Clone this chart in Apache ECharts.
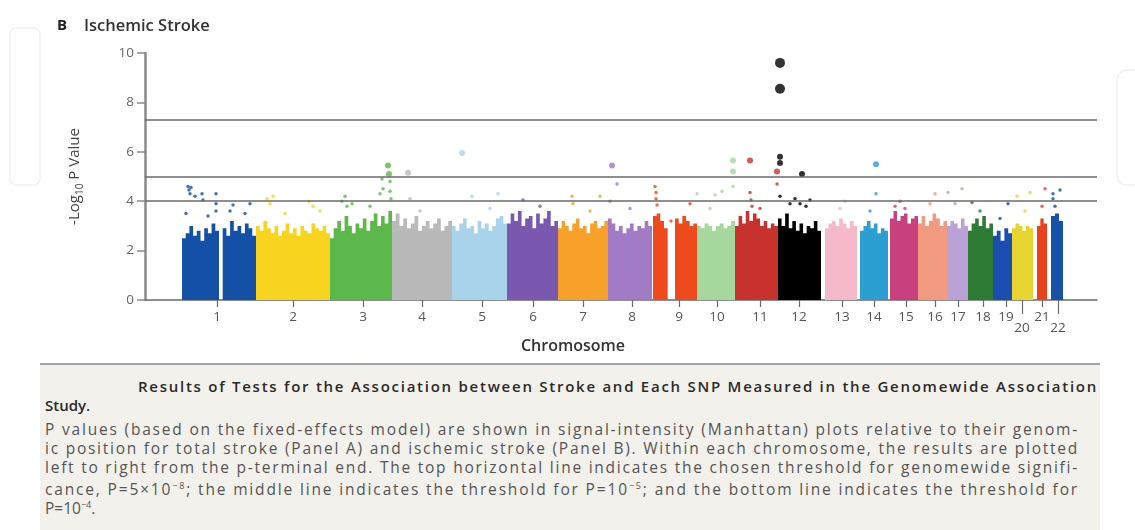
<!DOCTYPE html>
<html>
<head>
<meta charset="utf-8">
<script src="https://cdn.jsdelivr.net/npm/echarts@6/dist/echarts.min.js"></script>
<style>
html, body { margin: 0; padding: 0; background: #fff; }
#wrap { position: relative; width: 1135px; height: 530px; overflow: hidden; }
#chart { position: absolute; left: 0; top: 0; width: 1135px; height: 530px; }
#caption { position: absolute; left: 40px; top: 363px; width: 1060px; height: 167px;
  background: #f3f1ec; border-top: 2px solid #a3a3a3; font-family: "Open Sans", sans-serif; }
.ln { position: absolute; white-space: nowrap; font-size: 15.5px; line-height: 18px; color: #555; }
.bold { font-weight: 600; color: #2a2a2a; font-size: 15px; }
sup { font-size: 9px; }
</style>
</head>
<body>
<div id="wrap">
  <div id="chart"></div>
  <div id="caption">
    <span class="ln bold" data-w="960" style="left:98px;top:12px">Results of Tests for the Association between Stroke and Each SNP Measured in the Genomewide Association</span>
    <span class="ln bold" style="left:5px;top:31px">Study.</span>
    <span class="ln" data-w="1034" style="left:5px;top:55px">P values (based on the fixed-effects model) are shown in signal-intensity (Manhattan) plots relative to their genom-</span>
    <span class="ln" data-w="1034" style="left:5px;top:74px">ic position for total stroke (Panel A) and ischemic stroke (Panel B). Within each chromosome, the results are plotted</span>
    <span class="ln" data-w="1034" style="left:5px;top:93px">left to right from the p-terminal end. The top horizontal line indicates the chosen threshold for genomewide signifi-</span>
    <span class="ln" data-w="1034" style="left:5px;top:112px">cance, P=5×10<sup>−8</sup>; the middle line indicates the threshold for P=10<sup>−5</sup>; and the bottom line indicates the threshold for</span>
    <span class="ln" style="left:5px;top:131px">P=10<sup>−4</sup>.</span>
  </div>
</div>
<script>
// chromosomes, cumulative position along the genome axis
var chrNames = ['1','2','3','4','5','6','7','8','9','10','11','12','13','14','15','16','17','18','19','20','21','22'];
var chrStart = [37,111,185,247,307,362,413,463,508,552,590,633,680,715,745,773,802,823,848,867,892,906];
var chrEnd   = [111,185,247,307,362,413,463,507,552,590,633,676,712,743,773,802,823,848,867,888,902,918];
var tickPos  = [72,148,218,277,337,388,438,487,534,572,615,654,697,729,761,790,813,838,861,877,897,913];
var chrColors = ['#1450a6','#f8d41f','#5cb84a','#b9b9b9','#a8d3ea','#7b58b0','#f7a12b','#a27bc6',
  '#ee4a1e','#a6d79c','#c8322c','#000000','#f5b9c9','#2c9fd2','#c8417e','#f29a7f','#bba2d6',
  '#2e7b35','#1c4db0','#e8d431','#e8431d','#1652a6'];

// dense SNP mass, -log10 P heights across each chromosome
var chrProfile = [
  [2.5,2.7,3.0,2.6,2.8,2.4,2.9,2.7,3.1,2.8,0,2.9,2.6,3.2,2.8,3.0,2.7,3.1,2.9,2.6],
  [3.0,2.8,3.2,2.9,2.7,3.0,2.6,2.8,3.1,2.7,2.9,2.6,3.0,2.8,2.7,3.1,2.9,2.8,3.0,2.7],
  [2.5,2.9,3.2,2.8,3.4,3.0,2.7,3.1,2.9,3.3,2.8,3.2,3.5,3.0,3.4,3.1,3.6],
  [3.2,3.5,3.0,3.3,2.9,3.1,3.4,2.8,3.0,3.2,2.9,3.1,3.3,2.8,3.0,3.2],
  [3.0,2.8,3.1,3.3,2.9,3.0,2.7,3.2,2.9,3.1,2.8,3.0,3.3,3.4,3.1],
  [3.1,3.5,3.2,3.6,3.0,3.3,3.4,2.9,3.5,3.1,3.3,3.6,3.0,3.2],
  [2.9,3.2,3.0,2.8,3.1,3.3,2.9,3.0,2.7,3.1,3.2,2.9,3.0,3.2],
  [3.3,3.1,2.8,3.0,2.7,2.9,3.1,2.8,3.0,2.9,3.2,3.0],
  [3.4,3.5,3.2,2.9,0,0,3.3,3.1,3.4,3.2,3.0,3.1],
  [3.0,2.9,3.1,3.0,2.8,3.0,3.1,2.9,3.0,3.2],
  [3.0,3.4,3.1,3.6,3.2,3.5,3.3,3.0,3.2,2.9,3.1,3.0],
  [3.3,3.0,3.5,2.9,3.2,2.8,3.1,2.7,3.0,2.9,3.2,2.8],
  [2.9,3.1,3.2,3.0,3.3,3.1,2.9,3.2,3.0],
  [2.8,3.0,3.2,2.9,3.1,2.7,2.9,2.8],
  [3.3,3.6,3.2,3.4,3.5,3.1,3.3,3.4],
  [3.1,3.4,3.0,3.2,3.5,3.3,3.0,3.2],
  [3.0,3.2,3.1,2.9,3.3,3.0],
  [2.8,3.1,3.3,3.0,3.4,2.9,3.1],
  [2.6,2.8,2.4,2.9,2.7],
  [2.9,3.1,3.0,2.8,3.0,2.9],
  [3.0,3.3,3.1],
  [3.4,3.5,3.2]
];

// individual SNPs standing above the mass: [position, -log10 P]
var chrHits = [
  [[43,4.6],[44,4.45],[45,4.3],[46,4.55],[50,4.2],[57,4.3],[58,4.05],[71,4.3],[71,3.9],[71,3.6],[41,3.5],[63,3.4],[85,3.6],[88,3.85],[105,3.9],[100,3.5]],
  [[122,4.1],[125,3.9],[128,4.2],[164,4.0],[168,3.8],[140,3.5],[175,3.6]],
  [[197,4.0],[200,4.2],[202,3.8],[207,3.9],[235,4.3],[237,4.9],[238,4.5],[243,5.45],[244,5.1],[245,4.8],[245,4.4],[246,4.1],[225,3.8]],
  [[263,5.15],[265,4.1],[275,3.6]],
  [[317,5.95],[327,4.2],[353,4.3],[345,3.7]],
  [[378,4.05],[395,3.8]],
  [[427,4.2],[428,3.9],[455,4.2],[445,3.6]],
  [[467,5.45],[472,4.7],[465,4.0],[485,3.7]],
  [[510,4.6],[511,4.35],[511,4.1],[512,3.85],[545,3.9],[526,3.2]],
  [[552,4.3],[570,4.25],[577,4.4],[588,5.65],[588,5.2],[588,4.6],[565,3.7]],
  [[605,5.65],[605,4.35],[606,4.05],[607,3.8],[615,3.7],[632,5.2],[632,4.7]],
  [[635,9.6],[635,8.55],[635,5.8],[635,5.55],[635,4.2],[657,5.1],[650,4.1],[655,3.9],[665,4.05],[661,3.8],[645,3.9]],
  [[700,4.0],[695,3.7]],
  [[731,5.5],[731,4.3],[725,3.6]],
  [[755,4.0],[750,3.8],[760,3.7]],
  [[790,4.3],[785,3.9]],
  [[803,4.35],[817,4.5],[810,3.9]],
  [[827,3.95],[835,3.6]],
  [[863,3.9],[855,3.3]],
  [[872,4.2],[885,4.35],[880,3.6]],
  [[900,4.5],[897,3.8]],
  [[915,4.45],[908,4.3],[908,4.1],[910,3.8]]
];

// significance thresholds: 5e-8, 1e-5, 1e-4
var thresholds = [7.3, 5, 4];
var lowLabels = ['20', '22'];

var font = '"Open Sans", sans-serif';
var myChart = echarts.init(document.getElementById('chart'));

var series = [];
chrNames.forEach(function (name, i) {
  var prof = chrProfile[i];
  var w = (chrEnd[i] - chrStart[i]) / prof.length;
  var pts = prof.map(function (h, k) { return [chrStart[i] + k * w, h]; });
  pts.push([chrEnd[i], prof[prof.length - 1]]);
  var s = {
    type: 'line', name: 'chr' + name, data: pts, step: 'end',
    symbol: 'none', silent: true, z: 2,
    lineStyle: { width: 0 },
    areaStyle: { color: chrColors[i], opacity: 1 }
  };
  if (i === 0) {
    s.markLine = {
      silent: true, symbol: 'none', label: { show: false }, animation: false,
      lineStyle: { color: '#6a6a6a', width: 1.5, type: 'solid' },
      data: thresholds.map(function (t) { return { yAxis: t }; })
    };
  }
  series.push(s);
});
chrNames.forEach(function (name, i) {
  series.push({
    type: 'scatter', name: 'hits' + name, data: chrHits[i], z: 3,
    symbolSize: function (v) { return v[1] >= 8 ? 10 : (v[1] >= 5 ? 6 : 3.5); },
    itemStyle: { color: chrColors[i] }
  });
});

var mainTicks = tickPos.filter(function (p, i) { return lowLabels.indexOf(chrNames[i]) < 0; });
var lowTicks = tickPos.filter(function (p, i) { return lowLabels.indexOf(chrNames[i]) >= 0; });
function chrLabel(v) { return chrNames[tickPos.indexOf(v)] || ''; }

var option = {
  animation: false,
  backgroundColor: '#fff',
  grid: { left: 145, right: 38, top: 53, bottom: 230, containLabel: false, outerBoundsMode: 'none' },
  graphic: [
    { type: 'rect', shape: { x: 10, y: 28, width: 30, height: 157, r: 6 }, style: { fill: 'none', stroke: '#f1f1f1', lineWidth: 1.5 } },
    { type: 'rect', shape: { x: 1117, y: 70, width: 40, height: 115, r: 10 }, style: { fill: 'none', stroke: '#f1f1f1', lineWidth: 1.5 } },
    { type: 'text', x: 57, y: 26, style: { text: 'B', font: 'bold 15px ' + font, fill: '#222', textVerticalAlign: 'middle' } },
    { type: 'text', x: 84, y: 26, style: { text: 'Ischemic Stroke', font: '600 16.5px ' + font, fill: '#333', textVerticalAlign: 'middle' } },
    { type: 'text', x: 573, y: 346, style: { text: 'Chromosome', font: '600 16px ' + font, fill: '#333', textAlign: 'center', textVerticalAlign: 'middle' } }
  ],
  xAxis: [{
    type: 'value', min: 0, max: 952,
    axisLine: { show: true, onZero: false, lineStyle: { color: '#6a6a6a', width: 1.5 } },
    splitLine: { show: false },
    axisTick: { show: true, customValues: mainTicks, length: 7, lineStyle: { color: '#6a6a6a', width: 1.2 } },
    axisLabel: { customValues: mainTicks, formatter: chrLabel, color: '#555', fontSize: 13.5, margin: 10, fontFamily: font }
  }, {
    type: 'value', min: 0, max: 952, position: 'bottom',
    axisLine: { show: false },
    splitLine: { show: false },
    axisTick: { show: true, customValues: lowTicks, length: 14, lineStyle: { color: '#6a6a6a', width: 1.2 } },
    axisLabel: { customValues: lowTicks, formatter: chrLabel, color: '#555', fontSize: 13.5, margin: 21, fontFamily: font }
  }],
  yAxis: {
    type: 'value', min: 0, max: 10, interval: 2,
    axisLine: { show: true, lineStyle: { color: '#8a8a8a', width: 2.5 } },
    axisTick: { show: true, length: 8, lineStyle: { color: '#8a8a8a', width: 1.5 } },
    axisLabel: { color: '#666', fontSize: 13.5, margin: 11, fontFamily: font },
    splitLine: { show: false },
    name: '{a|-Log}{s|10}{a| P Value}',
    nameLocation: 'middle', nameRotate: 90, nameGap: 60,
    nameTextStyle: {
      rich: {
        a: { fontSize: 15, color: '#444', fontFamily: font, lineHeight: 20 },
        s: { fontSize: 10, color: '#444', fontFamily: font, lineHeight: 20, verticalAlign: 'bottom', padding: [7, 0, 0, 0] }
      }
    }
  },
  series: series
};
myChart.setOption(option);

// stretch each caption line to the width it has in the figure
function fitCaption() {
  document.querySelectorAll('#caption .ln[data-w]').forEach(function (el) {
    el.style.letterSpacing = '0px';
    var target = +el.getAttribute('data-w');
    var natural = el.getBoundingClientRect().width;
    var n = el.textContent.length;
    el.style.letterSpacing = ((target - natural) / n) + 'px';
  });
}
fitCaption();
if (document.fonts && document.fonts.ready) document.fonts.ready.then(fitCaption);
</script>
</body>
</html>
